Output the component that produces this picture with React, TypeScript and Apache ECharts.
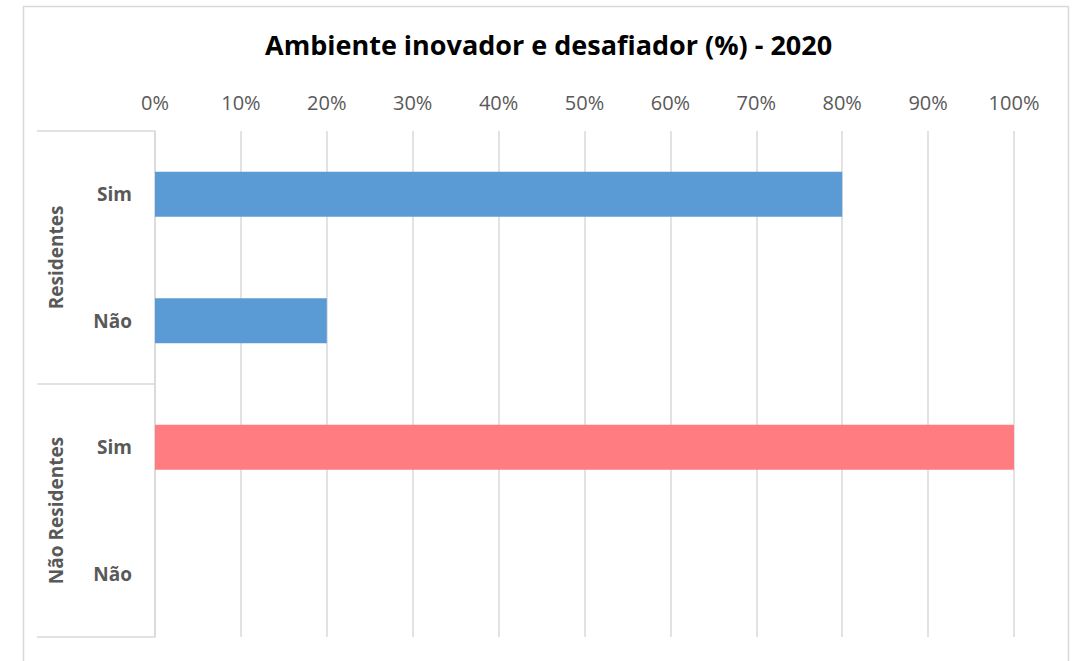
import React, { useEffect, useRef } from "react";
import * as echarts from "echarts";

const title = "Ambiente inovador e desafiador (%) - 2020";
const groups = ["Residentes", "Não Residentes"];
const answers = ["Sim", "Não", "Sim", "Não"];
const answerGroup = [0, 0, 1, 1];
const values = [80, 20, 100, 0];
const groupColors = ["#5B9BD5", "#FF7C80"];
const xTicks = [0, 10, 20, 30, 40, 50, 60, 70, 80, 90, 100];

const FONT = "'Open Sans', sans-serif";

export default function App() {
  const ref = useRef<HTMLDivElement>(null);
  useEffect(() => {
    if (!ref.current) return;
    const chart = echarts.init(ref.current, undefined, { renderer: "svg" });
    chart.setOption({
      animation: false,
      backgroundColor: "#ffffff",
      title: {
        text: title,
        left: 260,
        top: 26,
        textStyle: { fontFamily: FONT, fontWeight: "bold", fontSize: 27, color: "#000000" },
      },
      graphic: [
        {
          type: "rect",
          shape: { x: 23.5, y: 6.5, width: 1045, height: 720 },
          style: { fill: "none", stroke: "#d9d9d9", lineWidth: 1.5 },
          silent: true,
        },
      ],
      grid: { left: 155, top: 131, right: 62, bottom: 24, containLabel: false },
      xAxis: {
        type: "value",
        position: "top",
        min: xTicks[0],
        max: xTicks[xTicks.length - 1],
        interval: 10,
        axisLine: { show: false },
        axisTick: { show: false },
        axisLabel: {
          formatter: "{value}%",
          fontFamily: FONT,
          fontSize: 20,
          color: "#595959",
          margin: 19,
        },
        splitLine: { show: true, lineStyle: { color: "#d9d9d9", width: 1.5 } },
      },
      yAxis: [
        {
          type: "category",
          inverse: true,
          data: answers,
          axisLine: { show: true, lineStyle: { color: "#d9d9d9", width: 1.5 } },
          axisTick: { show: false },
          axisLabel: {
            fontFamily: FONT,
            fontWeight: "bold",
            fontSize: 19,
            color: "#595959",
            margin: 23,
          },
        },
        {
          type: "category",
          inverse: true,
          position: "left",
          data: groups,
          axisLine: { show: false },
          axisTick: { show: true, length: 118, lineStyle: { color: "#d9d9d9", width: 1.5 } },
          axisLabel: {
            rotate: 90,
            fontFamily: FONT,
            fontWeight: "bold",
            fontSize: 19,
            color: "#595959",
            margin: 90,
          },
        },
      ],
      series: [
        {
          type: "bar",
          yAxisIndex: 0,
          barWidth: 45,
          data: values.map((v, i) => ({
            value: v,
            itemStyle: { color: groupColors[answerGroup[i]] },
          })),
        },
      ],
    });
    return () => chart.dispose();
  }, []);
  return (
    <div
      ref={ref}
      style={{ position: "fixed", left: 0, top: 0, width: 1076, height: 661 }}
    />
  );
}
